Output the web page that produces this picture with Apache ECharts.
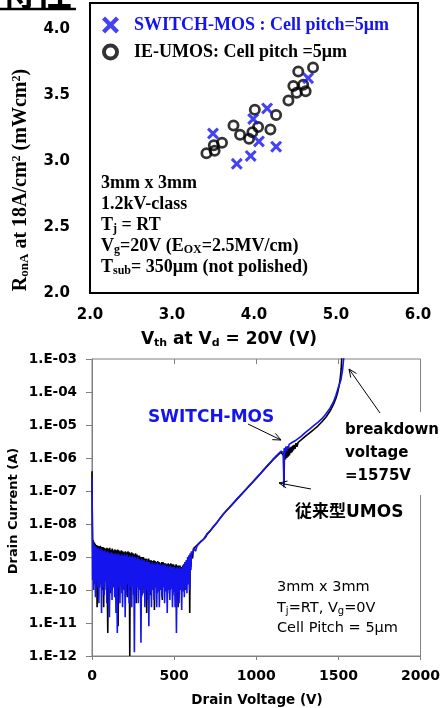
<!DOCTYPE html>
<html><head><meta charset="utf-8">
<script src="https://cdn.jsdelivr.net/npm/echarts@6/dist/echarts.min.js"></script>
<style>html,body{margin:0;padding:0;background:#fff}#c{width:443px;height:708px}</style>
</head><body><div id="c"></div>
<script>
// ---------- Top chart data: Ron,A vs Vth ----------
const switchVth  = [4.66, 4.16, 3.99, 3.50, 4.06, 4.27, 3.96, 3.79];
const switchRon  = [3.63, 3.40, 3.32, 3.21, 3.15, 3.11, 3.04, 2.98];
const ieVth = [4.54, 4.72, 4.60, 4.48, 4.52, 4.63, 4.42, 4.01, 4.27, 3.75, 3.83, 3.98, 4.05, 3.94, 4.20, 3.42, 3.52, 3.51, 3.61];
const ieRon = [3.68, 3.71, 3.58, 3.57, 3.52, 3.53, 3.46, 3.39, 3.35, 3.27, 3.20, 3.22, 3.26, 3.17, 3.24, 3.06, 3.08, 3.12, 3.14];
const topXTicks = [2.0, 3.0, 4.0, 5.0, 6.0];
const topYTicks = [2.0, 2.5, 3.0, 3.5, 4.0];

// ---------- Bottom chart data: Id vs Vd ----------
const bottomXTicks = [0, 500, 1000, 1500, 2000];
const bottomYTicks = [1e-12, 1e-11, 1e-10, 1e-9, 1e-8, 1e-7, 1e-6, 1e-5, 1e-4, 1e-3];
const umosVd_Id = [
 [0,4e-7],[1,5e-8],[3,6e-9],[5,1e-9],[8,3.2e-9],[11,2e-10],[14,2.8e-9],[17,1.5e-10],[20,2.5e-9],[24,3e-10],[28,2.3e-9],[31,3e-11],[35,2.2e-9],[39,2e-10],[43,2.1e-9],[47,1.2e-10],[51,2.2e-9],[55,3e-10],[59,2e-9],[63,1e-10],[67,2e-9],[71,3e-11],[75,1.9e-9],[79,2e-10],[83,1.8e-9],[87,1e-10],[91,1.9e-9],[96,5e-12],[100,1.8e-9],[104,1.5e-10],[108,1.9e-9],[112,8e-11],[116,1.7e-9],[120,2e-10],[124,1.8e-9],[128,1.2e-10],[132,1.6e-9],[136,3e-10],[140,1.7e-9],[144,1e-10],[148,1.6e-9],[152,5e-11],[156,1.7e-9],[159,8e-12],[163,1.6e-9],[167,1.5e-10],[171,1.5e-9],[175,2e-10],[179,1.6e-9],[183,8e-11],[187,1.5e-9],[191,1.5e-10],[195,1.4e-9],[199,1e-10],[203,1.5e-9],[207,2e-10],[211,1.4e-9],[215,6e-11],[219,1.5e-9],[223,1.5e-10],[227,1.4e-9],[230,1e-12],[233,1.3e-9],[237,1e-10],[241,1.4e-9],[245,2e-10],[249,1.3e-9],[253,7e-11],[257,1.2e-9],[261,1.5e-10],[265,1.3e-9],[269,4e-11],[273,1.2e-9],[277,2e-10],[281,1.1e-9],[285,1e-10],[289,1.1e-9],[293,2e-10],[297,1e-9],[301,6e-11],[305,1e-9],[309,1.5e-10],[313,1e-9],[317,8e-11],[321,9e-10],[325,2e-10],[329,9e-10],[333,2e-11],[337,8.5e-10],[341,1.2e-10],[345,9e-10],[349,2e-10],[353,8e-10],[357,7e-11],[361,8e-10],[365,1.5e-10],[369,7.5e-10],[373,1e-10],[377,8e-10],[380,2.5e-11],[384,7.5e-10],[388,1.5e-10],[392,7e-10],[396,8e-11],[400,7.5e-10],[404,2e-10],[408,7e-10],[412,1e-10],[416,6.5e-10],[420,1.5e-10],[424,7e-10],[428,5e-11],[432,7e-10],[436,1.5e-10],[440,6.5e-10],[444,1e-10],[448,6.5e-10],[452,2e-10],[456,6e-10],[460,8e-11],[464,6.5e-10],[468,1.5e-10],[472,6e-10],[476,1e-10],[480,6.5e-10],[484,2e-10],[488,6e-10],[492,7e-11],[496,6e-10],[500,1.5e-10],[504,5.5e-10],[508,1e-10],[512,6e-10],[516,2e-10],[520,5.5e-10],[524,3e-11],[528,5.5e-10],[532,1.5e-10],[536,5.5e-10],[540,1e-10],[544,5e-10],[548,2e-10],[552,5.5e-10],[556,1e-10],[560,6e-10],[564,1.5e-10],[568,7e-10],[572,1e-10],[576,8e-10],[580,2e-10],[584,9e-10],[588,1.5e-10],[592,1.1e-9],[595,2e-11],[598,1.2e-9],[602,5e-10],[606,1.4e-9],[612,9e-10],[618,1.8e-9],
 [625,1.6e-9],[640,2.3e-9],[650,2.1e-9],[660,2.9e-9],[675,3.3e-9],[690,3.9e-9],[700,4.8e-9],[720,6.2e-9],[740,8.3e-9],[760,1.1e-8],[780,1.5e-8],[800,2e-8],[850,3.7e-8],[900,7e-8],[950,1.3e-7],[1000,2.4e-7],[1050,4.6e-7],[1100,8.6e-7],[1150,1.5e-6],
 [1160,1.7e-6],[1166,1.2e-6],[1169,1.6e-7],[1172,1.9e-6],[1178,9e-7],[1182,1.8e-6],[1186,1e-6],[1190,1.9e-6],[1194,1.1e-6],[1198,2e-6],[1202,1.2e-6],[1206,2.1e-6],[1210,1.4e-6],[1214,2.2e-6],[1218,1.5e-6],[1222,2.4e-6],[1226,1.7e-6],[1230,2.5e-6],[1236,1.9e-6],[1242,2.8e-6],[1248,2.2e-6],[1255,3e-6],[1262,2.7e-6],[1275,3.6e-6],[1300,4.6e-6],[1325,5.8e-6],[1350,7.3e-6],[1375,9.3e-6],[1400,1.25e-5],[1425,1.75e-5],[1450,2.7e-5],[1470,4.2e-5],[1485,6.5e-5],[1495,9.5e-5],[1505,1.6e-4],[1512,2.8e-4],[1517,5e-4],[1520,1e-3],[1523,1.8e-3]
];
const switchVd_Id = [
 [0,2.5e-7],[1,6e-8],[2,8e-9],[4,2e-10],[6,3e-9],[9,1e-10],[12,2.4e-9],[15,1.8e-10],[18,2.2e-9],[21,6e-11],[24,2e-9],[27,2e-10],[30,1.9e-9],[34,1.2e-10],[38,1.8e-9],[42,4e-11],[46,1.7e-9],[50,1.5e-10],[54,1.8e-9],[58,2e-11],[62,1.6e-9],[66,1.2e-10],[70,1.5e-9],[74,7e-11],[78,1.6e-9],[82,1.8e-10],[86,1.4e-9],[90,4e-11],[94,1.5e-9],[98,1.2e-10],[102,1.4e-9],[106,1.5e-11],[110,1.3e-9],[114,1e-10],[118,1.4e-9],[122,5e-11],[126,1.3e-9],[130,1.5e-10],[134,1.2e-9],[138,6e-11],[142,1.3e-9],[146,2e-11],[150,1.2e-9],[154,5e-12],[158,1.3e-9],[162,1.2e-10],[166,1.2e-9],[170,4e-11],[174,1.1e-9],[178,1.5e-10],[182,1.2e-9],[186,3e-11],[190,1.1e-9],[194,1e-10],[198,1.2e-9],[202,1.5e-11],[206,1.1e-9],[210,7e-11],[214,1.2e-9],[218,1.5e-10],[222,1e-9],[226,4e-11],[230,1.1e-9],[234,1.2e-10],[238,1e-9],[242,3e-11],[246,1.1e-9],[250,1.3e-10],[254,1e-9],[258,1.3e-12],[262,1e-9],[266,6e-11],[270,9e-10],[274,1.2e-10],[278,1e-9],[282,4e-11],[286,9e-10],[290,1e-10],[294,8e-10],[298,2.5e-12],[302,9e-10],[306,7e-11],[310,8e-10],[314,1.3e-10],[318,8e-10],[322,3e-11],[326,7e-10],[330,1e-10],[334,8e-10],[338,5e-11],[342,7e-10],[346,8e-12],[350,7e-10],[354,9e-11],[358,6e-10],[362,3e-11],[366,7e-10],[370,1e-10],[374,6e-10],[378,5e-11],[382,6.5e-10],[386,1.2e-10],[390,6e-10],[394,3e-11],[398,7e-10],[402,9e-11],[406,6e-10],[410,3e-11],[414,6e-10],[418,1e-10],[422,5.5e-10],[426,6e-11],[430,6e-10],[434,1.2e-10],[438,5.5e-10],[442,4e-11],[446,6e-10],[450,9e-11],[454,5e-10],[458,2e-11],[462,5.5e-10],[466,1e-10],[470,5e-10],[474,5e-11],[478,5.5e-10],[482,1.1e-10],[486,5e-10],[490,3e-11],[494,5e-10],[498,9e-11],[502,5e-10],[506,3e-11],[510,4.5e-10],[514,5e-12],[518,5e-10],[522,8e-11],[526,4.5e-10],[530,4e-11],[534,5e-10],[538,1e-10],[542,4.5e-10],[546,2.5e-11],[550,5e-10],[554,9e-11],[558,6e-10],[562,6e-11],[566,7e-10],[570,1.2e-10],[574,8e-10],[578,8e-11],[582,1e-9],[586,1.5e-10],[590,1.1e-9],[594,1e-10],[598,1.3e-9],[602,4e-10],[606,1.5e-9],
 [610,1.2e-9],[620,1.8e-9],[630,1.5e-9],[640,2.2e-9],[650,2e-9],[660,2.8e-9],[670,2.6e-9],[680,3.5e-9],[690,3.8e-9],[700,5e-9],[710,4.8e-9],[720,6.3e-9],[730,6.8e-9],[740,8.5e-9],[760,1.1e-8],[780,1.5e-8],[800,2e-8],[825,2.8e-8],[850,3.8e-8],[875,5.2e-8],[900,7.1e-8],[925,9.7e-8],[950,1.33e-7],[975,1.8e-7],[1000,2.5e-7],[1025,3.4e-7],[1050,4.7e-7],[1075,6.5e-7],[1100,8.9e-7],[1125,1.2e-6],[1150,1.6e-6],
 [1160,1.8e-6],[1165,1.5e-6],[1168,1.3e-7],[1171,2e-6],[1175,1.4e-6],[1180,2.2e-6],[1185,1.6e-6],[1190,2.3e-6],[1195,1.9e-6],[1200,2.6e-6],[1210,2.4e-6],[1220,3e-6],[1230,2.9e-6],[1240,3.4e-6],[1250,3.7e-6],[1275,4.6e-6],[1300,6e-6],[1325,7.5e-6],[1350,9.5e-6],[1375,1.2e-5],[1400,1.55e-5],[1425,2.2e-5],[1450,3.3e-5],[1470,5e-5],[1485,8e-5],[1500,1.4e-4],[1515,2.3e-4],[1525,4.5e-4],[1531,9e-4],[1538,1.8e-3]
];

const BLUE = '#1414ee';
const XPATH = 'path://M0,1.8 L1.8,0 L5,3.2 L8.2,0 L10,1.8 L6.8,5 L10,8.2 L8.2,10 L5,6.8 L1.8,10 L0,8.2 L3.2,5 Z';
const RING = 'path://M5,0 A5,5 0 1,1 4.999,0 Z M5,2.3 A2.7,2.7 0 1,0 5.001,2.3 Z';
const SERIF = "'Liberation Serif','Times New Roman',serif";
const SANS = "'DejaVu Sans',sans-serif";
const CJK = "'DejaVu Sans','Noto Sans CJK JP',sans-serif";

function pair(xs, ys){ return xs.map((x,i)=>[x, ys[i]]); }
function expLabel(v){
  const e = Math.round(Math.log10(v));
  return '1.E' + (e<0?'-':'+') + String(Math.abs(e)).padStart(2,'0');
}
function arrow(x1,y1,x2,y2){
  const dx=x2-x1, dy=y2-y1, L=Math.hypot(dx,dy), ux=dx/L, uy=dy/L, nx=-uy, ny=ux;
  const bx=x2-8*ux, by=y2-8*uy;
  return [
    {type:'line', z:110, shape:{x1,y1,x2,y2}, style:{stroke:'#000', lineWidth:1}},
    {type:'polyline', z:110, shape:{points:[[bx+3.5*nx,by+3.5*ny],[x2,y2],[bx-3.5*nx,by-3.5*ny]]}, style:{stroke:'#000', lineWidth:1, fill:null}}
  ];
}

const chart = echarts.init(document.getElementById('c'), null, {renderer:'canvas'});
const subSerif = {font:"bold 12px 'Liberation Serif'", verticalAlign:'bottom', padding:[7,0,0,0]};
const option = {
  animation:false,
  backgroundColor:'#fff',
  grid:[
    {left:90, width:328, top:3, height:290, show:true, borderColor:'#000', borderWidth:2, containLabel:false},
    {left:92, width:331, top:359, height:297, show:true, borderColor:'#808080', borderWidth:1, containLabel:false}
  ],
  legend:{
    orient:'vertical', left:97, top:11, itemWidth:17, itemHeight:17, itemGap:9,
    textStyle:{fontFamily:SERIF, fontWeight:'bold', fontSize:18, color:'#000', padding:[0,0,0,10]},
    data:[
      {name:'SWITCH-MOS : Cell pitch=5μm', icon:XPATH, itemStyle:{color:BLUE}, textStyle:{color:BLUE}},
      {name:'IE-UMOS: Cell pitch =5μm', icon:RING, itemStyle:{color:'#000', borderWidth:0}}
    ],
    selectedMode:false
  },
  xAxis:[
    {gridIndex:0, type:'value', min:topXTicks[0], max:topXTicks[topXTicks.length-1], interval:1,
     axisLine:{show:false}, axisTick:{show:false}, splitLine:{show:false},
     axisLabel:{margin:15, fontFamily:SANS, fontWeight:'bold', fontSize:15, color:'#000', formatter:v=>v.toFixed(1)}},
    {gridIndex:1, type:'value', min:bottomXTicks[0], max:bottomXTicks[bottomXTicks.length-1], interval:500,
     axisLine:{show:true, lineStyle:{color:'#808080'}}, axisTick:{show:true, length:4, lineStyle:{color:'#808080'}}, splitLine:{show:false},
     axisLabel:{margin:13, fontFamily:SANS, fontWeight:'bold', fontSize:14, color:'#000', formatter:v=>String(v)}},
    {gridIndex:1, type:'value', position:'top', min:bottomXTicks[0], max:bottomXTicks[bottomXTicks.length-1], interval:500,
     axisLine:{show:false}, axisTick:{show:true, inside:true, length:5, lineStyle:{color:'#808080'}}, axisLabel:{show:false}, splitLine:{show:false}}
  ],
  yAxis:[
    {gridIndex:0, type:'value', min:topYTicks[0], max:4.2, interval:0.5,
     axisLine:{show:false}, axisTick:{show:false}, splitLine:{show:false},
     axisLabel:{margin:20, fontFamily:SANS, fontWeight:'bold', fontSize:15, color:'#000', formatter:v=> v>4.05 ? '' : v.toFixed(1)}},
    {gridIndex:1, type:'log', logBase:10, min:bottomYTicks[0], max:bottomYTicks[bottomYTicks.length-1], splitNumber:9,
     axisLine:{show:true, lineStyle:{color:'#808080'}}, axisTick:{show:true, length:6, lineStyle:{color:'#808080'}}, splitLine:{show:false}, minorTick:{show:false},
     axisLabel:{margin:15, fontFamily:SANS, fontWeight:'bold', fontSize:13.5, color:'#000', formatter:expLabel}}
  ],
  series:[
    {name:'IE-UMOS: Cell pitch =5μm', type:'scatter', xAxisIndex:0, yAxisIndex:0, data:pair(ieVth, ieRon),
     symbol:RING, symbolSize:12, itemStyle:{color:'#000'}, z:3},
    {name:'SWITCH-MOS : Cell pitch=5μm', type:'scatter', xAxisIndex:0, yAxisIndex:0, data:pair(switchVth, switchRon),
     symbol:XPATH, symbolSize:12, itemStyle:{color:BLUE}, z:4},
    {name:'従来型UMOS', type:'line', xAxisIndex:1, yAxisIndex:1, data:umosVd_Id, showSymbol:false, symbol:'none',
     lineStyle:{color:'#000', width:1.6}, z:5, clip:true},
    {name:'SWITCH-MOS', type:'line', xAxisIndex:1, yAxisIndex:1, data:switchVd_Id, showSymbol:false, symbol:'none',
     lineStyle:{color:BLUE, width:1.6}, z:6, clip:true}
  ],
  graphic:[
    {type:'text', z:100, x:0, y:10, style:{text:'特性', font:"bold 36px 'Noto Sans CJK JP'", fill:'#000', verticalAlign:'bottom'}},
    {type:'line', z:100, shape:{x1:0,y1:9,x2:76,y2:9}, style:{stroke:'#000', lineWidth:2.5}},
    {type:'text', z:100, x:21, y:180, rotation:Math.PI/2,
     style:{text:'R{s|onA} at 18A/cm{p|2} (mWcm{p|2})', fill:'#000', align:'center', verticalAlign:'middle',
            font:"bold 20px 'Liberation Serif'",
            rich:{s:{font:"bold 13px 'Liberation Serif'", verticalAlign:'bottom', padding:[7,0,0,0]},
                  p:{font:"bold 12px 'Liberation Serif'", verticalAlign:'top', padding:[0,0,7,0]}}}},
    {type:'text', z:100, x:229, y:340,
     style:{text:'V{s|th} at V{s|d} = 20V (V)', fill:'#000', align:'center', verticalAlign:'middle',
            font:"bold 17px 'DejaVu Sans'",
            rich:{s:{font:"bold 11px 'DejaVu Sans'", verticalAlign:'bottom', padding:[7,0,0,0]}}}},
    {type:'text', z:100, x:101, y:183, style:{text:'3mm x 3mm', font:"bold 18px 'Liberation Serif'", fill:'#000', verticalAlign:'middle'}},
    {type:'text', z:100, x:101, y:204, style:{text:'1.2kV-class', font:"bold 18px 'Liberation Serif'", fill:'#000', verticalAlign:'middle'}},
    {type:'text', z:100, x:101, y:225, style:{text:'T{s|j} = RT', font:"bold 18px 'Liberation Serif'", fill:'#000', verticalAlign:'middle', rich:{s:subSerif}}},
    {type:'text', z:100, x:101, y:246, style:{text:'V{s|g}=20V (E{s|OX}=2.5MV/cm)', font:"bold 18px 'Liberation Serif'", fill:'#000', verticalAlign:'middle', rich:{s:subSerif}}},
    {type:'text', z:100, x:101, y:267, style:{text:'T{s|sub}= 350μm (not polished)', font:"bold 18px 'Liberation Serif'", fill:'#000', verticalAlign:'middle', rich:{s:subSerif}}},
    {type:'text', z:100, x:14, y:511, rotation:Math.PI/2,
     style:{text:'Drain Current (A)', font:"bold 13px 'DejaVu Sans'", fill:'#000', align:'center', verticalAlign:'middle'}},
    {type:'text', z:100, x:257, y:700,
     style:{text:'Drain Voltage (V)', font:"bold 13.5px 'DejaVu Sans'", fill:'#000', align:'center', verticalAlign:'middle'}},
    {type:'text', z:100, x:148, y:418, style:{text:'SWITCH-MOS', font:"bold 17px 'DejaVu Sans'", fill:BLUE, verticalAlign:'middle'}},
    {type:'text', z:105, x:343, y:412,
     style:{text:'breakdown\nvoltage\n=1575V', font:"bold 15px 'DejaVu Sans'", fill:'#000', lineHeight:23,
            backgroundColor:'#fff', padding:[7,20,7,2], verticalAlign:'top'}},
    {type:'text', z:100, x:295, y:513, style:{text:'従来型UMOS', font:"bold 17px "+CJK, fill:'#000', verticalAlign:'middle'}},
    {type:'text', z:100, x:277, y:587, style:{text:'3mm x 3mm', font:"14.5px 'DejaVu Sans'", fill:'#000', verticalAlign:'middle'}},
    {type:'text', z:100, x:277, y:608, style:{text:'T{s|j}=RT, V{s|g}=0V', font:"14.5px 'DejaVu Sans'", fill:'#000', verticalAlign:'middle',
       rich:{s:{font:"10px 'DejaVu Sans'", verticalAlign:'bottom', padding:[6,0,0,0]}}}},
    {type:'text', z:100, x:277, y:628, style:{text:'Cell Pitch = 5μm', font:"14.5px 'DejaVu Sans'", fill:'#000', verticalAlign:'middle'}},
    ...arrow(248,424,281,440),
    ...arrow(311,489,279,483),
    ...arrow(380,413,349,369)
  ]
};
chart.setOption(option);
</script></body></html>
